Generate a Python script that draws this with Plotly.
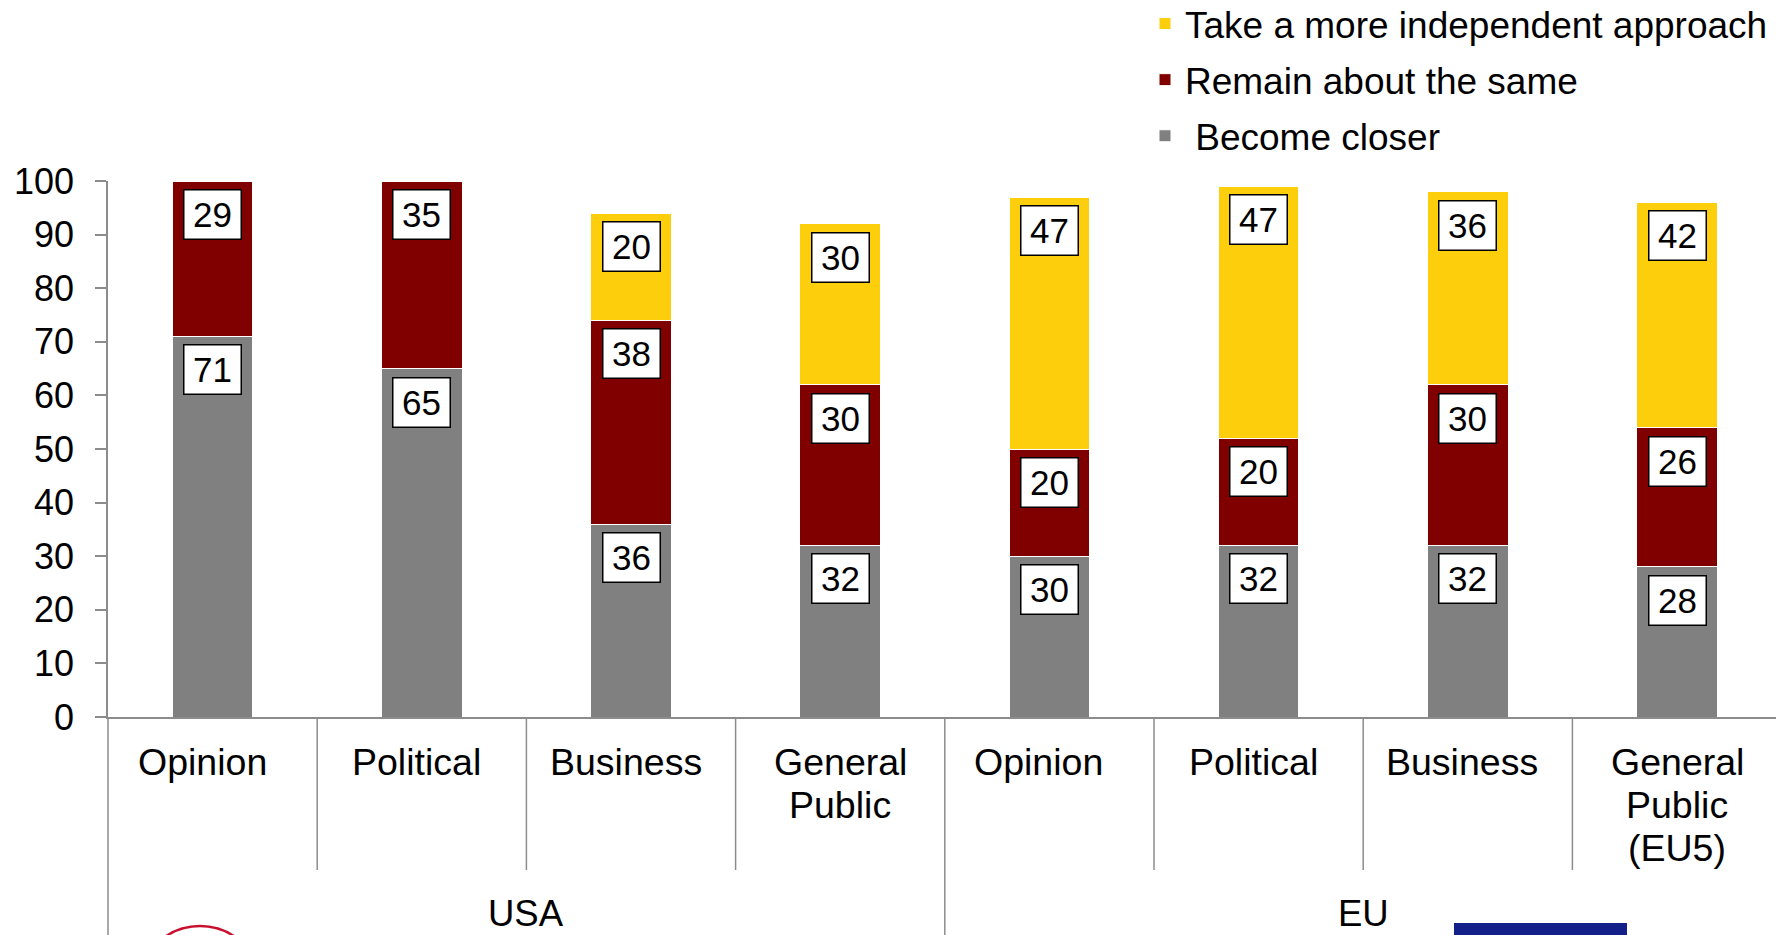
import plotly.graph_objects as go

# ---- data ----
categories = ["Opinion\u00a0\u00a0", "Political\u00a0", "Business\u00a0", "General<br>Public",
              "Opinion\u00a0\u00a0", "Political\u00a0", "Business\u00a0", "General<br>Public<br>(EU5)"]
groups = ["USA", "EU"]
group_sizes = [4, 4]

become_closer = [71, 65, 36, 32, 30, 32, 32, 28]
remain_same = [29, 35, 38, 30, 20, 20, 30, 26]
more_independent = [0, 0, 20, 30, 47, 47, 36, 42]

series_names = ["\u00a0Become closer", "Remain about the same", "Take a more independent approach"]
series_values = [become_closer, remain_same, more_independent]
series_colors = ["#808080", "#800000", "#FCCE0B"]

# ---- layout geometry (pixels) ----
W, H = 1776, 935
M_L, M_R, M_T, M_B = 108, 0, 181, 218
PLOT_W = W - M_L - M_R
PLOT_H = H - M_T - M_B
CAT_PX = 209.2                  # width of one category slot
CAT_LINE_ROWS = [762, 805, 848]  # centre rows of category label lines
GROUP_ROW = 914
LEGEND_TOP = -7
FONT = "Liberation Sans, Arial, sans-serif"
AXIS_GRAY = "#8C8C8C"


def y_paper(py):
    """Page pixel row -> paper fraction of the plot area."""
    return (H - M_B - py) / PLOT_H


def x_paper(px):
    return (px - M_L) / PLOT_W


x = list(range(len(categories)))

fig = go.Figure()
n_series = len(series_names)
for k, (name, vals, color) in enumerate(zip(series_names, series_values, series_colors)):
    fig.add_trace(go.Bar(
        x=x, y=vals, name=name, legendgroup=name,
        legendrank=n_series - k,   # top segment listed first
        marker=dict(color=color, line=dict(color="white", width=1)),
        hovertemplate="%{y}<extra>" + name.strip() + "</extra>",
    ))

annotations = []

# boxed value labels just under the top of each segment
base = [0] * len(x)
for vals in series_values:
    for i, v in enumerate(vals):
        top = base[i] + v
        if v > 0:
            annotations.append(dict(
                x=i, y=top, xref="x", yref="y", text=str(v), showarrow=False,
                yanchor="top", yshift=-8,
                font=dict(size=35, color="black", family=FONT),
                bgcolor="white", bordercolor="black", borderwidth=1.5,
                borderpad=1, width=54, height=46,
            ))
        base[i] = top

# inner category labels, one line at a time
for i, label in enumerate(categories):
    for k, line in enumerate(label.split("<br>")):
        annotations.append(dict(
            x=i, xref="x", y=y_paper(CAT_LINE_ROWS[k]), yref="paper",
            text=line, showarrow=False, xanchor="center", yanchor="middle",
            font=dict(size=37.5, color="black", family=FONT),
        ))

# outer group labels and divider lines under the axis
shapes = []
start = 0
group_edges = []
for g, n in zip(groups, group_sizes):
    annotations.append(dict(
        x=start + (n - 1) / 2, xref="x", y=y_paper(GROUP_ROW), yref="paper",
        text=g, showarrow=False, yanchor="middle",
        font=dict(size=36.5, color="black", family=FONT),
    ))
    start += n
    group_edges.append(start - 0.5)

for i in range(1, len(x)):
    b = i - 0.5
    long_line = b in group_edges
    shapes.append(dict(
        type="line", xref="x", yref="paper", x0=b, x1=b,
        y0=0, y1=y_paper(H if long_line else 870),
        line=dict(color=AXIS_GRAY, width=1.5),
    ))
shapes.append(dict(
    type="line", xref="paper", yref="paper", x0=0, x1=0,
    y0=0, y1=y_paper(H), line=dict(color=AXIS_GRAY, width=1.5),
))

# footer logo strip
shapes.append(dict(
    type="circle", xref="paper", yref="paper",
    x0=x_paper(139), x1=x_paper(261), y0=y_paper(1048), y1=y_paper(926),
    line=dict(color="#C8102E", width=2.5),
))
shapes.append(dict(
    type="rect", xref="paper", yref="paper",
    x0=x_paper(1454), x1=x_paper(1627), y0=y_paper(H + 5), y1=y_paper(923),
    fillcolor="#13208A", line=dict(width=0),
))

fig.update_layout(
    width=W, height=H,
    margin=dict(l=M_L, r=M_R, t=M_T, b=M_B, autoexpand=False),
    paper_bgcolor="white", plot_bgcolor="white",
    barmode="stack", bargap=0.614,
    font=dict(family=FONT, color="black"),
    showlegend=True,
    legend=dict(
        xref="container", yref="paper", x=1145 / W, y=y_paper(LEGEND_TOP),
        xanchor="left", yanchor="top",
        traceorder="grouped", tracegroupgap=5,
        font=dict(size=37, color="black", family=FONT),
        bgcolor="rgba(0,0,0,0)", borderwidth=0,
    ),
    xaxis=dict(
        range=[-0.5, -0.5 + PLOT_W / CAT_PX],
        tickvals=x, showticklabels=False,
        ticks="", showgrid=False, zeroline=False,
        showline=True, linecolor=AXIS_GRAY, linewidth=1.5,
    ),
    yaxis=dict(
        range=[0, 100], dtick=10, tick0=0,
        ticks="outside", ticklen=11, tickwidth=1.5, tickcolor=AXIS_GRAY,
        showline=True, linecolor=AXIS_GRAY, linewidth=1.5,
        showgrid=False, zeroline=False,
        tickfont=dict(size=36, color="black", family=FONT),
        ticklabelstandoff=14,
    ),
    annotations=annotations,
    shapes=shapes,
)

fig.write_html("out.html")
